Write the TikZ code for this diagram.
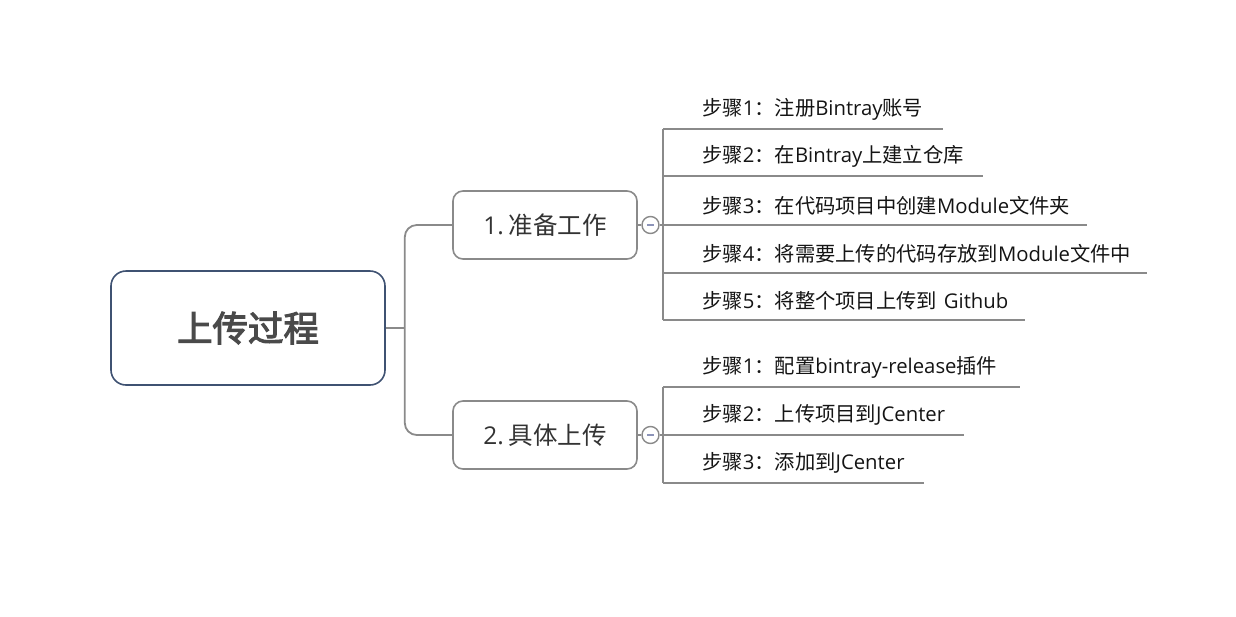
\documentclass[tikz,border=0pt]{standalone}
\usepackage{fontspec}
\setmainfont{Noto Sans CJK SC}
\newfontfamily\cjkbold{Noto Sans CJK SC}[FakeBold=3]
\newfontfamily\latin{Open Sans}
\definecolor{linegray}{HTML}{8A8A8A}
\definecolor{rootblue}{HTML}{3F5272}
\definecolor{roottext}{HTML}{4A4A4A}
\definecolor{branchtext}{HTML}{333333}
\definecolor{minusblue}{HTML}{8C93B8}
\begin{document}
\begin{tikzpicture}[x=1pt,y=-1pt,
  rootbox/.style={draw=rootblue, line width=1.6pt, rounded corners=15pt, minimum width=274pt, minimum height=114pt, text=roottext, font=\cjkbold\fontsize{35.5}{40}\selectfont},
  branchbox/.style={draw=linegray, line width=1.6pt, rounded corners=10pt, minimum width=184pt, minimum height=68pt, text=branchtext, font=\fontsize{24.5}{28}\selectfont},
  conn/.style={draw=linegray, line width=1.8pt},
  toggle/.style={circle, draw=linegray, line width=1.4pt, fill=white, minimum size=17pt, inner sep=0pt},
  stepnode/.style={anchor=south west, inner xsep=0pt, inner ysep=0pt, minimum height=39pt, align=left, text=black!92, font=\fontsize{20.3}{24}\selectfont}
]
\path[use as bounding box] (0,0) rectangle (1236,616);

\node[rootbox] (root) at (248,328) {上传过程};
\node[branchbox] (b1) at (545,225) {{\latin 1.}\hspace{0.2em}准备工作};
\node[branchbox] (b2) at (545,435) {{\latin 2.}\hspace{0.2em}具体上传};

\draw[conn] (root.east) -- ++(19,0) coordinate (j);
\draw[conn, rounded corners=12pt] (b1.west) -| (j) |- (b2.west);

% group 1 steps
\node[stepnode, text width=280pt] (s1) at (663,129) {\hspace*{39pt}步骤{\latin 1}：注册{\latin Bintray}账号};
\node[stepnode, text width=320pt] (s2) at (663,176) {\hspace*{39pt}步骤{\latin 2}：在{\latin Bintray}上建立仓库};
\node[stepnode, text width=424pt] (s3) at (663,225) {\hspace*{39pt}步骤{\latin 3}：在代码项目中创建{\latin Module}文件夹};
\node[stepnode, text width=484pt] (s4) at (663,273) {\hspace*{39pt}步骤{\latin 4}：将需要上传的代码存放到{\latin Module}文件中};
\node[stepnode, text width=362pt] (s5) at (663,320) {\hspace*{39pt}步骤{\latin 5}：将整个项目上传到 {\latin Github}};
\foreach \s in {s1,s2,s3,s4,s5} \draw[conn] (\s.south west) -- (\s.south east);
\draw[conn] (s1.south west) -- (s5.south west);

% group 2 steps
\node[stepnode, text width=357pt] (t1) at (663,387) {\hspace*{39pt}步骤{\latin 1}：配置{\latin bintray-release}插件};
\node[stepnode, text width=301pt] (t2) at (663,435) {\hspace*{39pt}步骤{\latin 2}：上传项目到{\latin JCenter}};
\node[stepnode, text width=261pt] (t3) at (663,483) {\hspace*{39pt}步骤{\latin 3}：添加到{\latin JCenter}};
\foreach \s in {t1,t2,t3} \draw[conn] (\s.south west) -- (\s.south east);
\draw[conn] (t1.south west) -- (t3.south west);

% toggles
\node[toggle] (c1) at (650.5,225) {};
\node[toggle] (c2) at (650.5,435) {};
\draw[conn] (b1.east) -- (c1.west);
\draw[conn] (b2.east) -- (c2.west);
\draw[conn] (c1.east) -- (s3.south west);
\draw[conn] (c2.east) -- (t2.south west);
\foreach \c in {c1,c2} \draw[minusblue, line width=1.3pt] ([xshift=-3.5pt]\c.center) -- ([xshift=3.5pt]\c.center);
\end{tikzpicture}
\end{document}
